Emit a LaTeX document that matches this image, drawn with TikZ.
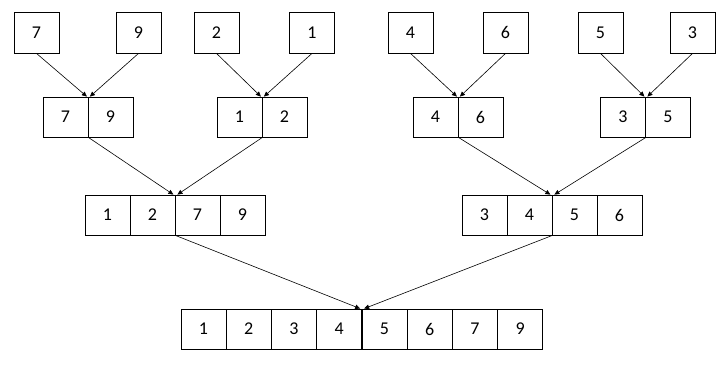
\documentclass[tikz,border=0pt]{standalone}
\usepackage{fontspec}
\setmainfont{Carlito}
\usetikzlibrary{arrows.meta,calc}
\tikzset{
  cell/.style={draw=black, line width=0.8pt, fill=white, minimum width=45pt, minimum height=40pt, inner sep=0pt, font=\fontsize{18}{20}\selectfont, drop shadow/.style={}},
  topcell/.style={cell, minimum height=41pt},
  link/.style={line width=0.6pt, -{Triangle[length=5pt,width=4.5pt]}},
}
\begin{document}
\begin{tikzpicture}[x=1pt,y=-1pt]
\useasboundingbox (0,0) rectangle (727,367);
% top row
\node[topcell] (t7) at (36.5,32.5) {7};
\node[topcell] (t9) at (138.5,32.5) {9};
\node[topcell] (t2) at (216.5,32.5) {2};
\node[topcell] (t1) at (312,32.5) {1};
\node[topcell] (t4) at (410.5,32.5) {4};
\node[topcell] (t6) at (505.5,32.5) {6};
\node[topcell] (t5) at (600.5,32.5) {5};
\node[topcell] (t3) at (692.5,32.5) {3};
% second row
\node[cell] (a1) at (65.5,117) {7};
\node[cell] (a2) at (110.5,117) {9};
\node[cell] (b1) at (239.5,117) {1};
\node[cell] (b2) at (284.5,117) {2};
\node[cell] (c1) at (435.5,117) {4};
\node[cell] (c2) at (480.5,117) {6};
\node[cell] (d1) at (623,117) {3};
\node[cell] (d2) at (668,117) {5};
% third row
\node[cell] (e1) at (107.5,215) {1};
\node[cell] (e2) at (152.5,215) {2};
\node[cell] (e3) at (197.5,215) {7};
\node[cell] (e4) at (242.5,215) {9};
\node[cell] (f1) at (484.5,215) {3};
\node[cell] (f2) at (529.5,215) {4};
\node[cell] (f3) at (574.5,215) {5};
\node[cell] (f4) at (619.5,215) {6};
% bottom row
\node[cell] (g1) at (203.5,329) {1};
\node[cell] (g2) at (248.75,329) {2};
\node[cell] (g3) at (294,329) {3};
\node[cell] (g4) at (339.25,329) {4};
\node[cell] (g5) at (384.5,329) {5};
\node[cell] (g6) at (429.75,329) {6};
\node[cell] (g7) at (475,329) {7};
\node[cell] (g8) at (520.25,329) {9};
% arrows top -> second
\draw[link] (t7.south) -- ($(a1.north east)+(-1.5,0)$);
\draw[link] (t9.south) -- ($(a1.north east)+(1.5,0)$);
\draw[link] (t2.south) -- ($(b1.north east)+(-1.5,0)$);
\draw[link] (t1.south) -- ($(b1.north east)+(1.5,0)$);
\draw[link] (t4.south) -- ($(c1.north east)+(-1.5,0)$);
\draw[link] (t6.south) -- ($(c1.north east)+(1.5,0)$);
\draw[link] (t5.south) -- ($(d1.north east)+(-1.5,0)$);
\draw[link] (t3.south) -- ($(d1.north east)+(1.5,0)$);
% second -> third
\draw[link] (a1.south east) -- ($(e2.north east)+(-2,0)$);
\draw[link] (b1.south east) -- ($(e2.north east)+(2,0)$);
\draw[link] (c1.south east) -- ($(f2.north east)+(-2,0)$);
\draw[link] (d1.south east) -- ($(f2.north east)+(2,0)$);
% third -> bottom
\draw[link] (e2.south east) -- ($(g4.north east)+(-2,0)$);
\draw[link] (f2.south east) -- ($(g4.north east)+(2,0)$);
\end{tikzpicture}
\end{document}
